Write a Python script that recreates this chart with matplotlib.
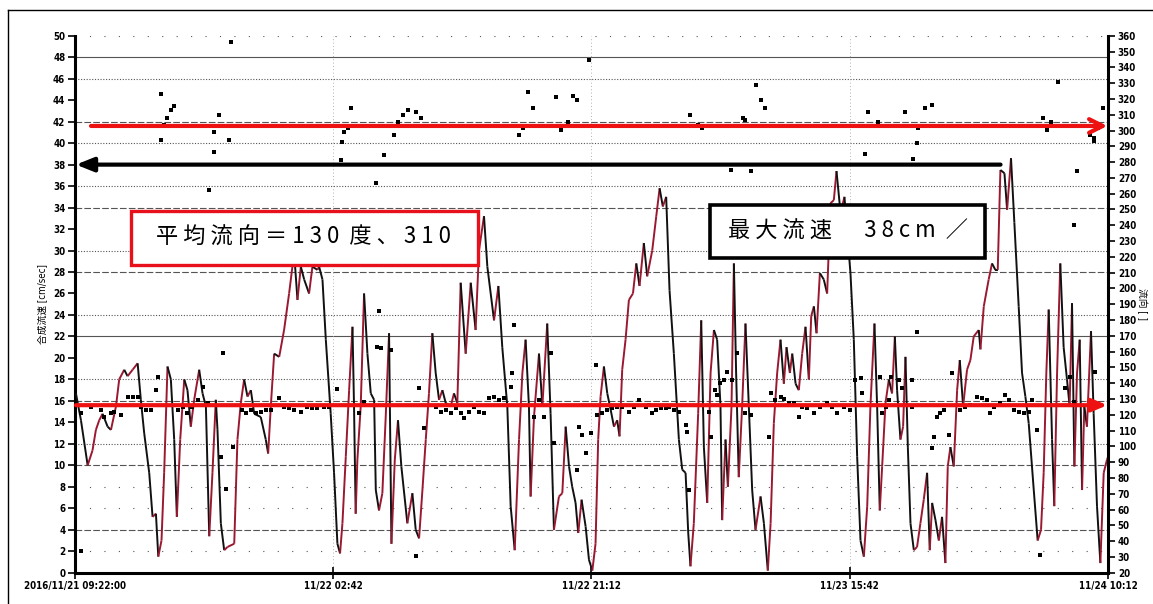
import numpy as np
import matplotlib.pyplot as plt
from matplotlib import font_manager
from matplotlib.collections import LineCollection
from matplotlib.patches import Rectangle

# hours since 2016/11/21 09:22, 合成流速 [cm/sec]
speed_hours = [
    0.07, 0.43, 0.91, 1.26, 1.50, 1.74, 1.98, 2.34, 2.58, 2.94, 3.17, 3.53, 3.77, 4.13, 4.49, 4.72,
    4.96, 5.32, 5.56, 5.80, 5.97, 6.20, 6.39, 6.63, 6.87, 7.11, 7.30, 7.54, 7.83, 8.06, 8.30, 8.54,
    8.90, 9.14, 9.38, 9.62, 9.85, 10.09, 10.21, 10.45, 10.69, 10.93, 11.41, 11.64, 11.88, 12.12,
    12.36, 12.60, 12.84, 13.31, 13.67, 13.84, 14.03, 14.27, 14.63, 14.98, 15.34, 15.70, 15.94, 16.18,
    16.42, 16.77, 17.01, 17.37, 17.49, 17.73, 17.97, 18.32, 18.56, 18.80, 18.99, 19.16, 19.40, 19.64,
    19.88, 19.99, 20.11, 20.23, 20.47, 20.71, 20.95, 21.19, 21.43, 21.55, 21.78, 22.02, 22.26, 22.50,
    22.67, 22.91, 23.14, 23.38, 23.81, 24.17,
    24.41, 24.65, 24.89, 25.13, 25.36, 25.60, 25.84, 26.08, 26.32, 26.56, 26.92, 27.15, 27.39, 27.63,
    27.99, 28.35, 28.70, 28.94, 29.30, 29.54, 30.02, 30.33, 30.61, 30.97, 31.21, 31.50, 31.81, 32.05,
    32.28, 32.52, 32.64, 32.88, 33.24, 33.48, 33.83, 34.07, 34.31, 34.67, 34.91, 35.15, 35.39, 35.62,
    35.86, 36.05, 36.29, 36.58, 36.82, 37.06, 37.29, 37.48, 37.65, 37.89, 38.13, 38.37, 38.61, 38.84,
    39.01, 39.20, 39.44, 39.68, 39.97, 40.21, 40.44, 40.75, 40.99, 41.35, 41.64, 41.88, 42.11, 42.35,
    42.59, 42.90, 43.26, 43.50, 43.74, 43.93, 44.09, 44.33, 44.64, 44.86, 45.05, 45.29, 45.53, 45.77,
    46.00, 46.24, 46.36, 46.60, 46.77, 47.03, 47.20, 47.36, 47.55, 47.79, 48.03, 48.27, 48.51, 48.75,
    49.11, 49.35, 49.63, 49.83, 50.06, 50.30, 50.54, 50.78, 50.97, 51.21, 51.38, 51.62, 51.85, 52.09,
    52.33, 52.57, 52.74, 52.93, 53.12, 53.36, 53.64, 53.88, 54.12, 54.36, 54.55, 54.84, 55.12, 55.36,
    55.55, 55.79, 56.03, 56.27, 56.51, 56.75, 56.98, 57.27, 57.46, 57.65, 57.82, 58.06, 58.30, 58.53,
    58.73, 58.89, 59.13, 59.32, 59.49, 59.66, 59.85, 60.09, 60.32, 60.56, 60.80, 61.04, 61.23, 61.40,
    61.64, 61.88, 62.11, 62.35, 62.52, 62.71, 62.95, 63.19, 63.38, 63.62, 63.90, 64.14, 64.38, 64.74,
    64.86, 65.10, 65.45, 65.69, 65.93, 66.10, 66.29, 66.58, 66.77, 67.05, 67.29, 67.60, 67.84, 68.08,
    68.32, 68.68, 68.96, 69.20, 69.39, 69.58, 69.75, 69.99, 70.15, 70.35, 70.58, 70.82, 71.06, 71.25,
    71.42, 71.59, 71.78, 71.97, 72.14, 72.30, 72.49, 72.78, 72.97, 73.21, 73.45, 73.69, 73.92, 74.0,
]
speed = [
    16.7, 14.2, 10.0, 11.4, 13.3, 14.2, 14.8, 13.6, 13.3, 15.5, 18.0, 18.9, 18.3, 18.9, 19.5, 16.1,
    13.0, 9.3, 5.2, 5.5, 1.5, 3.0, 9.3, 19.2, 18.0, 12.4, 5.2, 12.4, 18.0, 17.0, 13.6, 16.1,
    18.9, 16.7, 15.5, 3.4, 9.3, 16.1, 13.3, 4.6, 2.1, 2.4, 2.7, 12.4, 15.8, 18.0,
    16.4, 17.0, 14.8, 14.5, 12.4, 11.1, 15.5, 20.4, 20.1, 22.6, 26.0, 29.8, 25.4, 28.5,
    27.3, 26.0, 28.5, 28.2, 28.5, 27.3, 21.7, 14.8, 9.3, 2.7, 1.8, 4.6, 10.8, 17.0,
    22.9, 15.5, 5.5, 10.5, 15.5, 26.0, 20.4, 16.7, 16.1, 7.7, 5.8, 7.4, 14.5, 22.3,
    2.7, 10.5, 14.2, 9.9, 4.6, 7.4,
    4.0, 3.2, 7.7, 12.4, 16.7, 22.3, 18.6, 16.1, 17.0, 15.8, 15.5, 16.7, 15.8, 27.0,
    20.4, 27.0, 22.6, 30.0, 33.2, 28.5, 23.5, 26.7, 21.0, 15.5, 6.2, 2.1, 12.4, 18.6,
    21.7, 15.5, 7.1, 14.5, 20.4, 15.5, 23.2, 14.8, 4.0, 7.1, 7.4, 13.6, 9.9, 8.0,
    6.5, 3.7, 6.8, 4.3, 1.2, 0.2, 2.7, 12.4, 16.4, 19.2, 16.7, 15.2, 13.6, 14.2,
    12.7, 18.9, 21.7, 25.4, 26.0, 28.8, 26.7, 30.7, 27.6, 30.0, 33.2, 35.8, 34.1, 35.0,
    26.3, 20.4, 12.4, 9.6, 9.3, 3.7, 0.6, 4.6, 14.8, 23.5, 11.7, 6.5, 18.6, 22.6,
    21.7, 15.5, 4.9, 12.4, 8.0, 15.5, 28.8, 18.6, 8.9, 15.5, 23.2, 15.5, 7.7, 4.0,
    7.1, 4.6, 0.2, 4.6, 13.9, 18.6, 21.7, 17.6, 21.0, 18.6, 20.4, 17.6, 17.0, 20.4,
    22.9, 18.0, 23.9, 24.8, 22.3, 27.9, 27.3, 26.0, 34.4, 34.7, 37.4, 33.5, 35.0, 31.0,
    27.9, 21.7, 10.8, 3.0, 1.5, 6.2, 15.5, 23.2, 15.5, 5.8, 9.9, 15.8, 18.0, 16.7,
    22.0, 17.0, 12.4, 13.6, 20.1, 11.7, 4.6, 2.1, 2.4, 4.6, 6.8, 9.3, 2.1, 6.5,
    4.9, 3.0, 5.2, 0.9, 9.9, 11.7, 9.9, 17.0, 19.8, 15.5, 18.9, 19.8, 22.0, 22.6,
    20.8, 24.8, 27.3, 28.8, 28.2, 28.2, 37.5, 37.2, 33.8, 38.6, 32.6, 24.8, 18.6, 16.4,
    13.9, 7.7, 3.0, 4.0, 9.3, 18.6, 24.5, 12.4, 6.2, 18.6, 28.8, 21.0, 18.0, 15.5,
    25.1, 9.9, 18.6, 21.7, 7.7, 15.5, 13.6, 22.5, 14.8, 6.2, 0.9, 9.3, 10.5, 10.8,
]

# 流向 [deg]
dir_hours = [
    6.16, 6.37, 6.59, 6.87, 7.09, 6.16, 9.95, 10.31, 11.02, 11.17, 19.26, 19.54, 19.76,
    22.83, 23.12, 23.48, 23.84, 24.41, 24.77, 31.78, 32.07, 32.43, 32.78, 34.43, 34.79, 35.29,
    35.65, 35.93, 36.79, 44.09, 44.60, 44.95, 47.82, 48.03, 48.75, 49.11, 49.46, 56.84, 57.12,
    57.55, 59.48, 60.42, 60.92, 61.42, 69.36, 69.65, 69.94, 70.44, 72.73, 73.01, 73.30, 73.66,
    9.97, 19.04, 22.14, 21.55, 9.62, 19.16, 46.96, 48.39, 56.58, 60.04, 60.32, 72.97, 71.78, 71.54,
    0.43, 0.43, 1.15, 1.86, 2.10, 2.58, 2.82, 3.29, 3.77, 4.13, 4.49, 4.72, 5.08, 5.44, 5.80, 5.97,
    7.35, 7.71, 8.06, 8.42, 8.78, 9.14, 9.50, 10.57, 10.45, 10.81, 11.29, 12.00, 12.24, 12.60,
    12.96, 13.31, 13.67, 14.03, 14.63, 14.98, 15.34, 15.70, 16.18, 16.65, 17.01, 17.37, 17.85,
    18.21, 18.80, 20.35, 20.71, 21.67, 21.90, 21.78, 22.62, 24.41,
    24.65, 25.01, 25.84, 26.20, 26.56, 26.92, 27.27, 27.63, 27.87, 28.23, 28.59, 28.94, 29.30,
    29.66, 30.02, 30.38, 30.73, 31.21, 31.33, 31.45, 32.88, 33.24, 33.60, 34.07, 34.31, 35.98,
    36.10, 36.34, 36.58, 36.94, 37.29, 37.41, 37.77, 38.13, 38.49, 38.84, 39.20, 39.68, 40.04,
    40.40, 40.87, 41.11, 41.35, 41.59, 41.95, 42.31, 42.54, 42.90, 43.26, 43.74, 43.86, 43.97,
    45.41, 45.53, 45.88, 46.00, 46.24, 46.48, 46.72, 47.08, 47.43, 48.03, 48.39,
    49.71, 49.83, 50.18, 50.54, 50.78, 51.14, 51.50, 51.85, 52.09, 52.45, 52.93, 53.40, 53.88,
    54.24, 54.60, 55.08, 55.55, 55.91, 56.27, 56.39, 57.70, 57.82, 58.06, 58.30, 58.42, 59.01,
    59.25, 59.97, 59.97, 60.32, 61.40, 61.52, 61.76, 61.99, 62.23, 62.59, 62.83, 63.43, 63.78,
    64.14, 64.62, 64.98, 65.33, 65.57, 65.81, 66.29, 66.65, 66.89, 67.24, 67.60, 67.96, 68.32,
    68.56, 68.91, 69.15, 70.94, 71.30, 71.54, 73.09,
]
dir_deg = [
    323.3, 303.7, 308.1, 313.2, 315.7, 294.2, 299.3, 310.0, 294.2, 356.3, 299.3, 301.8, 314.5,
    297.4, 305.6, 310.0, 313.2, 311.9, 308.1, 297.4, 301.8, 324.6, 314.5, 321.4, 300.5, 305.6,
    322.1, 319.5, 344.9, 310.0, 303.7, 301.8, 308.1, 306.9, 329.0, 319.5, 314.5, 311.9, 303.0,
    305.6, 311.9, 301.8, 314.5, 316.4, 308.1, 300.5, 305.6, 330.9, 297.4, 295.5, 301.8, 314.5,
    286.2, 281.5, 284.7, 266.7, 262.5, 292.5, 275.2, 274.1, 285.3, 282.2, 292.1, 293.1, 274.1, 240.3,
    33.6, 121.0, 125.2, 123.1, 118.9, 121.0, 122.0, 119.9, 131.5, 131.5, 131.5, 125.2, 123.1, 123.1, 135.8, 144.2,
    123.1, 125.2, 121.0, 125.2, 129.4, 137.9, 127.3, 159.0, 93.5, 72.8, 99.8, 123.1, 121.0, 123.1,
    121.0, 122.0, 123.1, 123.1, 130.5, 125.2, 124.1, 123.1, 122.0, 125.2, 124.1, 124.1, 125.2,
    125.2, 136.2, 121.0, 128.4, 163.2, 162.2, 185.4, 161.1, 30.6,
    136.8, 111.5, 125.2, 122.0, 123.1, 121.0, 124.1, 121.0, 117.8, 122.0, 125.2, 122.0, 121.0,
    130.5, 131.5, 129.4, 130.5, 137.9, 146.3, 177.0, 118.9, 129.4, 118.9, 159.0, 101.9, 85.1,
    112.5, 107.2, 95.6, 108.3, 151.6, 119.9, 121.0, 123.1, 124.1, 125.2, 125.2, 122.0, 125.2,
    129.4, 125.2, 126.3, 121.0, 123.1, 124.1, 124.1, 125.2, 123.1, 122.0, 113.6, 109.4, 72.4,
    122.0, 106.2, 135.8, 132.6, 140.0, 142.1, 147.4, 142.1, 159.0, 121.0, 119.9,
    106.2, 133.7, 129.4, 131.5, 129.8, 127.3, 127.3, 118.9, 125.2, 124.1, 121.0, 125.2, 127.3,
    125.2, 121.0, 125.2, 123.1, 142.1, 143.2, 133.7, 144.2, 121.0, 125.2, 129.4, 144.2, 142.1,
    136.8, 142.1, 125.2, 172.7, 98.8, 106.2, 118.9, 121.0, 123.1, 107.2, 146.3, 123.1, 125.2,
    126.3, 131.5, 130.5, 129.4, 121.0, 125.2, 127.3, 132.6, 129.4, 123.1, 122.0, 121.0, 122.0,
    129.4, 110.4, 31.2, 136.8, 144.2, 128.4, 147.4,
]

tick_hours = [0, 18.5, 37, 55.5, 74]
tick_labels = ['2016/11/21 09:22:00', '11/22 02:42', '11/22 21:12', '11/23 15:42', '11/24 10:12']

mean_text = '平 均 流 向 ＝ 1 3 0  度 、 3 1 0'
max_text = '最 大 流 速 　 3 8 c m  ／'
max_speed = 38

names = {f.name for f in font_manager.fontManager.ttflist}
narrow = 'Liberation Sans Narrow' if 'Liberation Sans Narrow' in names else 'DejaVu Sans'
plt.rcParams['font.family'] = [narrow, 'Noto Sans CJK JP', 'DejaVu Sans']
plt.rcParams['font.weight'] = 'bold'
plt.rcParams['font.stretch'] = 'condensed'
plt.rcParams['font.size'] = 7
cjk = ['Noto Sans CJK JP', 'DejaVu Sans']

fig = plt.figure(figsize=(11.53, 6.04), dpi=100)
ax = fig.add_axes([0.065, 0.0518, 0.896, 0.889])
ax2 = ax.twinx()

ax.set_xlim(0, 74)
ax.set_ylim(0, 50)
ax2.set_ylim(20, 360)

# horizontal grid, mixed styles like the original print
grid_levels = {
    'solid': [48, 22],
    'dashed': [42, 34, 28, 16, 10, 4],
    'dotted': [46, 40, 36, 30, 24, 18, 12],
    'sparse': [50, 8, 6, 2],
}
grid_ls = {'solid': '-', 'dashed': (0, (6, 2)), 'dotted': (0, (1, 1.5)), 'sparse': (0, (1, 12))}
for kind, levels in grid_levels.items():
    for lv in levels:
        ax.axhline(lv, color='#555555', lw=0.8, ls=grid_ls[kind], zorder=1)
for t in tick_hours[1:-1]:
    ax.axvline(t, color='#999999', lw=0.6, ls=(0, (1, 3)), zorder=1)

# speed line: dark red where rising, black where falling
t = np.array(speed_hours)
v = np.array(speed)
pts = np.column_stack([t, v])
segs = np.stack([pts[:-1], pts[1:]], axis=1)
cols = np.where(np.diff(v) > 0, '#9a1830', '#111111')
ax.add_collection(LineCollection(segs, colors=cols, linewidths=1.4, zorder=3))

ax2.scatter(dir_hours, dir_deg, s=5, marker='s', color='black', linewidths=0, zorder=3)

# annotation boxes
ax2.add_patch(Rectangle((4.0, 28.7), 24.85, 5.0, transform=ax.transData,
                        facecolor='white', edgecolor='#e8101a', lw=2.4, zorder=5))
ax2.text(16.4, 31.2, mean_text, transform=ax.transData, ha='center', va='center',
         fontsize=16, family=cjk, weight='normal', stretch='normal', zorder=6)
ax2.add_patch(Rectangle((45.5, 29.3), 19.7, 4.95, transform=ax.transData,
                        facecolor='white', edgecolor='black', lw=2.6, zorder=5))
ax2.text(55.35, 31.8, max_text, transform=ax.transData, ha='center', va='center',
         fontsize=16, family=cjk, weight='normal', stretch='normal', zorder=6)

# arrows
ax2.annotate('', xy=(73.95, 41.6), xytext=(1.15, 41.6), xycoords=ax.transData,
             arrowprops=dict(arrowstyle='->,head_length=1.4,head_width=0.7', color='#ee1111',
                             lw=3, shrinkA=0, shrinkB=0), zorder=4)
ax2.annotate('', xy=(73.95, 15.6), xytext=(0.07, 15.6), xycoords=ax.transData,
             arrowprops=dict(arrowstyle='-|>,head_length=1.3,head_width=0.55', color='#ee1111',
                             lw=3, shrinkA=0, shrinkB=0), zorder=4)
ax2.annotate('', xy=(0.07, max_speed), xytext=(66.3, max_speed), xycoords=ax.transData,
             arrowprops=dict(arrowstyle='-|>,head_length=1.5,head_width=0.6', color='black',
                             lw=3, shrinkA=0, shrinkB=0), zorder=4)

ax.set_yticks(range(0, 51, 2))
ax2.set_yticks(range(20, 361, 10))
ax.set_xticks(tick_hours)
ax.set_xticklabels(tick_labels)
ax.tick_params(axis='y', direction='out', length=5, width=1.2, pad=2, labelsize=7)
ax.tick_params(axis='x', direction='inout', length=8, width=1.2, pad=2, labelsize=7)
ax2.tick_params(axis='y', direction='out', length=5, width=1.2, pad=2, labelsize=7)

ax.spines['left'].set_linewidth(2.2)
ax.spines['bottom'].set_linewidth(2.2)
ax.spines['top'].set_visible(False)
ax.spines['right'].set_visible(False)
for s in ['left', 'top', 'bottom']:
    ax2.spines[s].set_visible(False)
ax2.spines['right'].set_linewidth(2.2)

ax.set_ylabel('合成流速 [cm/sec]', labelpad=4)
ax2.set_ylabel('流向 [ ]', rotation=270, labelpad=8)

# outer frame of the scanned page
fig.add_artist(plt.Line2D([8 / 1153, 8 / 1153], [0, 1 - 10 / 604], transform=fig.transFigure, color='black', lw=1))
fig.add_artist(plt.Line2D([8 / 1153, 1], [1 - 10 / 604, 1 - 10 / 604], transform=fig.transFigure, color='black', lw=1))

fig.savefig('out.png', dpi=100)
